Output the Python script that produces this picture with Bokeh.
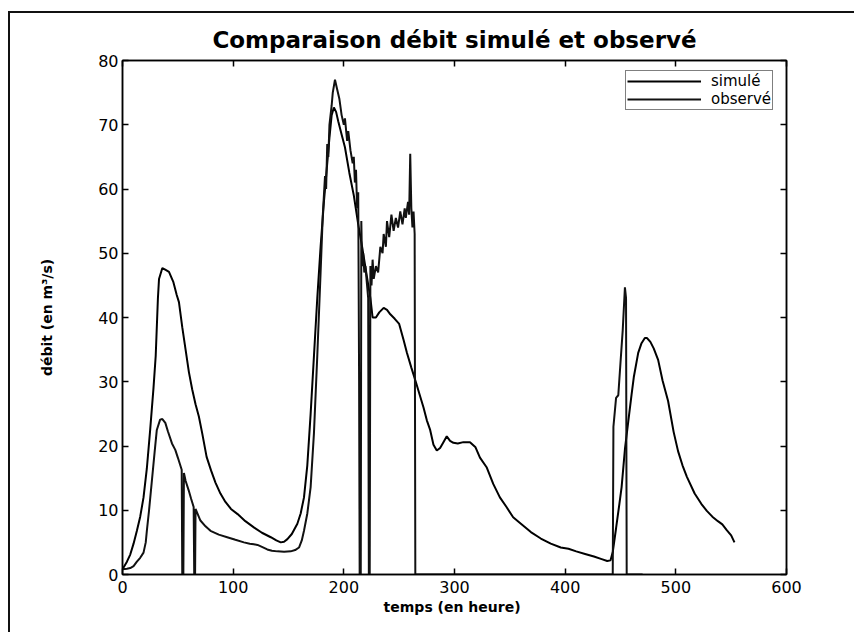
from bokeh.plotting import figure
from bokeh.models import Range1d, LinearAxis, FixedTicker
from bokeh.embed import file_html
from bokeh.resources import INLINE

# --- data ---
sim_t = [0, 4, 7, 10, 13, 16, 19, 22, 25, 28, 30, 32, 33, 36, 39, 42, 46, 49, 51, 54, 57, 60, 63, 66, 69, 72, 76, 80, 84, 88.5, 93, 98, 104, 111, 119, 126, 134, 139, 143, 146, 149, 153, 158, 161, 164, 167, 170, 173, 176, 179, 182, 185, 187, 189, 191, 193, 195, 198, 201, 205, 209, 213, 217, 221, 224, 226, 229, 232, 236, 239, 242, 246, 250, 254, 257, 261, 265, 269, 272, 275, 278, 281, 284, 287, 290, 293, 296, 299, 303, 308, 314, 319, 323, 329, 335, 341, 347, 353, 360, 369, 378, 387, 396, 403, 410, 418, 426, 433, 438, 441, 443, 446, 449, 451, 454, 457, 460, 462, 466, 469, 472, 474, 477, 480, 484, 488, 493, 498, 502, 506, 510, 517, 523, 528, 533, 538, 542, 546, 550, 553]
sim_q = [0.8, 2, 3.1, 4.8, 6.8, 9, 12, 16.5, 22.5, 29, 34, 43, 46, 47.7, 47.4, 47.1, 45.5, 43.5, 42.4, 38.5, 35, 31.5, 28.8, 26.5, 24.6, 22, 18.3, 16.2, 14.3, 12.6, 11.3, 10.2, 9.4, 8.3, 7.3, 6.5, 5.8, 5.3, 5.0, 5.1, 5.5, 6.3, 7.9, 9.5, 12, 17, 25, 34, 43, 51, 58, 64, 68, 71.5, 72.7, 72, 70.5, 68.5, 66.5, 62.5, 59, 54.5, 50.5, 46.2, 43, 40, 40, 40.8, 41.5, 41.2, 40.5, 39.8, 39, 36.5, 34.5, 32.2, 30, 27.7, 26, 24, 22.5, 20.2, 19.3, 19.7, 20.6, 21.5, 20.8, 20.5, 20.4, 20.6, 20.6, 19.8, 18.2, 16.7, 14.1, 12, 10.5, 8.9, 7.9, 6.6, 5.6, 4.8, 4.2, 4.0, 3.6, 3.2, 2.8, 2.4, 2.1, 2.2, 3.5, 7.2, 11, 13.6, 19.5, 23.8, 28, 30.7, 34.5, 36, 36.8, 36.8, 36.2, 35.2, 33.4, 30.2, 27, 22.2, 19.2, 17, 15.2, 12.6, 11, 9.9, 9.0, 8.3, 7.8, 6.9, 6.1, 5.0]

obs_t = [0, 4, 7, 10, 13, 16, 19, 21, 22, 24, 26.6, 29, 31, 34, 36, 38.7, 41, 44.7, 47.7, 50, 53.5, 54, 55, 55.5, 57, 59.8, 62, 64.3, 64.8, 65.6, 66, 70.4, 75, 79.5, 87, 94.6, 102, 109.7, 115, 118.7, 122, 126, 130.8, 135, 140, 146, 152, 156, 159.5, 162, 164, 167, 170, 173, 176, 179, 181, 183, 184, 185, 186, 187, 189, 190, 192, 194, 196, 198, 200, 201, 203, 204, 206, 208, 209, 210, 211, 212, 213, 213.8, 214.3, 215.3, 215.8, 216.5, 217.5, 218.5, 219.5, 221, 222, 222.6, 223.4, 224, 225, 226, 227, 229, 231, 233, 235, 236, 238, 239, 241, 243, 245, 247, 249, 251, 253, 255, 256, 258, 259, 260, 261, 262, 263, 264, 264.6, 300, 400, 443, 443.6, 446, 448, 450, 452, 454, 455, 455.6, 470]
obs_q = [0.8, 0.9, 1.0, 1.3, 2, 2.6, 3.4, 5, 6.8, 10, 14.7, 19, 22.5, 24.1, 24.2, 23.6, 22.3, 20.4, 19.4, 18.2, 16.3, 0, 0, 15.8, 14.6, 13.1, 11.8, 10.5, 0, 0, 10.2, 8.4, 7.5, 6.8, 6.2, 5.8, 5.4, 5.0, 4.8, 4.7, 4.6, 4.3, 3.9, 3.7, 3.6, 3.55, 3.6, 3.8, 4.2, 5.3, 6.8, 9.5, 13.6, 22, 34, 47, 56, 62, 60, 67, 65, 70, 73, 75, 77, 75.5, 74, 71.5, 70, 71, 67.5, 69, 66, 64, 65, 61, 63, 57, 59.5, 30, 0, 0, 55, 48, 50, 47, 48, 45, 43, 0, 0, 48, 45, 49, 46, 48, 47, 51, 50, 53, 51, 55, 52.5, 56, 53.5, 55.5, 54, 56.5, 54.5, 57, 55.5, 58, 56, 65.5, 57, 54, 56.5, 53, 0, 0, 0, 0, 23, 27.5, 27.9, 33, 38, 44.7, 43, 0, 0]

x_ticks = [0, 100, 200, 300, 400, 500, 600]
y_ticks = [0, 10, 20, 30, 40, 50, 60, 70, 80]

FONT = "DejaVu Sans"

p = figure(width=846, height=621, output_backend="svg", toolbar_location=None,
           x_range=Range1d(0, 600), y_range=Range1d(0, 80),
           title="Comparaison débit simulé et observé",
           min_border_left=112, min_border_right=70, min_border_top=47, min_border_bottom=60)

# frame of the scanned page (left and top edges)
p.styles = {"border-left": "2px solid #111", "border-top": "2px solid #111",
            "margin-left": "8px", "margin-top": "11px"}

p.title.align = "center"
p.title.text_font = FONT
p.title.text_font_size = "23px"
p.title.text_font_style = "bold"
p.title.text_color = "black"
p.title.standoff = 16

p.grid.visible = False
p.outline_line_color = "black"
p.outline_line_width = 1.5

p.line(sim_t, sim_q, line_color="black", line_width=2, legend_label="simulé")
p.line(obs_t, obs_q, line_color="#111111", line_width=2, legend_label="observé")

for ax, ticks in ((p.xaxis[0], x_ticks), (p.yaxis[0], y_ticks)):
    ax.ticker = FixedTicker(ticks=ticks)
    ax.major_tick_in = 6
    ax.major_tick_out = 0
    ax.minor_tick_line_color = None
    ax.axis_line_color = "black"
    ax.axis_line_width = 1.5
    ax.major_tick_line_color = "black"
    ax.major_tick_line_width = 1.5
    ax.major_label_text_font = FONT
    ax.major_label_text_font_size = "16px"
    ax.major_label_text_color = "black"
    ax.axis_label_text_font = FONT
    ax.axis_label_text_font_style = "bold"
    ax.axis_label_text_font_size = "14px"
    ax.axis_label_text_color = "black"

p.xaxis[0].axis_label = "temps  (en heure)"
p.xaxis[0].major_label_standoff = 6
p.xaxis[0].axis_label_standoff = 3
p.yaxis[0].axis_label = "débit (en m³/s)"
p.yaxis[0].major_label_standoff = 4
p.yaxis[0].axis_label_standoff = 40

top = LinearAxis(ticker=FixedTicker(ticks=x_ticks), major_label_text_color=None,
                 major_label_standoff=0,
                 major_tick_in=6, major_tick_out=0, minor_tick_line_color=None,
                 axis_line_color="black", axis_line_width=1.5, major_tick_line_width=1.5)
right = LinearAxis(ticker=FixedTicker(ticks=y_ticks), major_label_text_color=None,
                   major_label_standoff=0,
                   major_tick_in=6, major_tick_out=0, minor_tick_line_color=None,
                   axis_line_color="black", axis_line_width=1.5, major_tick_line_width=1.5)
p.add_layout(top, "above")
p.add_layout(right, "right")

lg = p.legend[0]
lg.location = (503, 464)
lg.margin = 0
lg.padding = 1
lg.spacing = 0
lg.glyph_width = 74
lg.glyph_height = 14
lg.label_height = 14
lg.label_standoff = 10
lg.label_text_font = FONT
lg.label_text_font_size = "15px"
lg.label_text_color = "black"
lg.border_line_color = "black"
lg.border_line_width = 1.5
lg.background_fill_color = "white"
lg.background_fill_alpha = 1

open("out.html", "w").write(file_html(p, INLINE))
